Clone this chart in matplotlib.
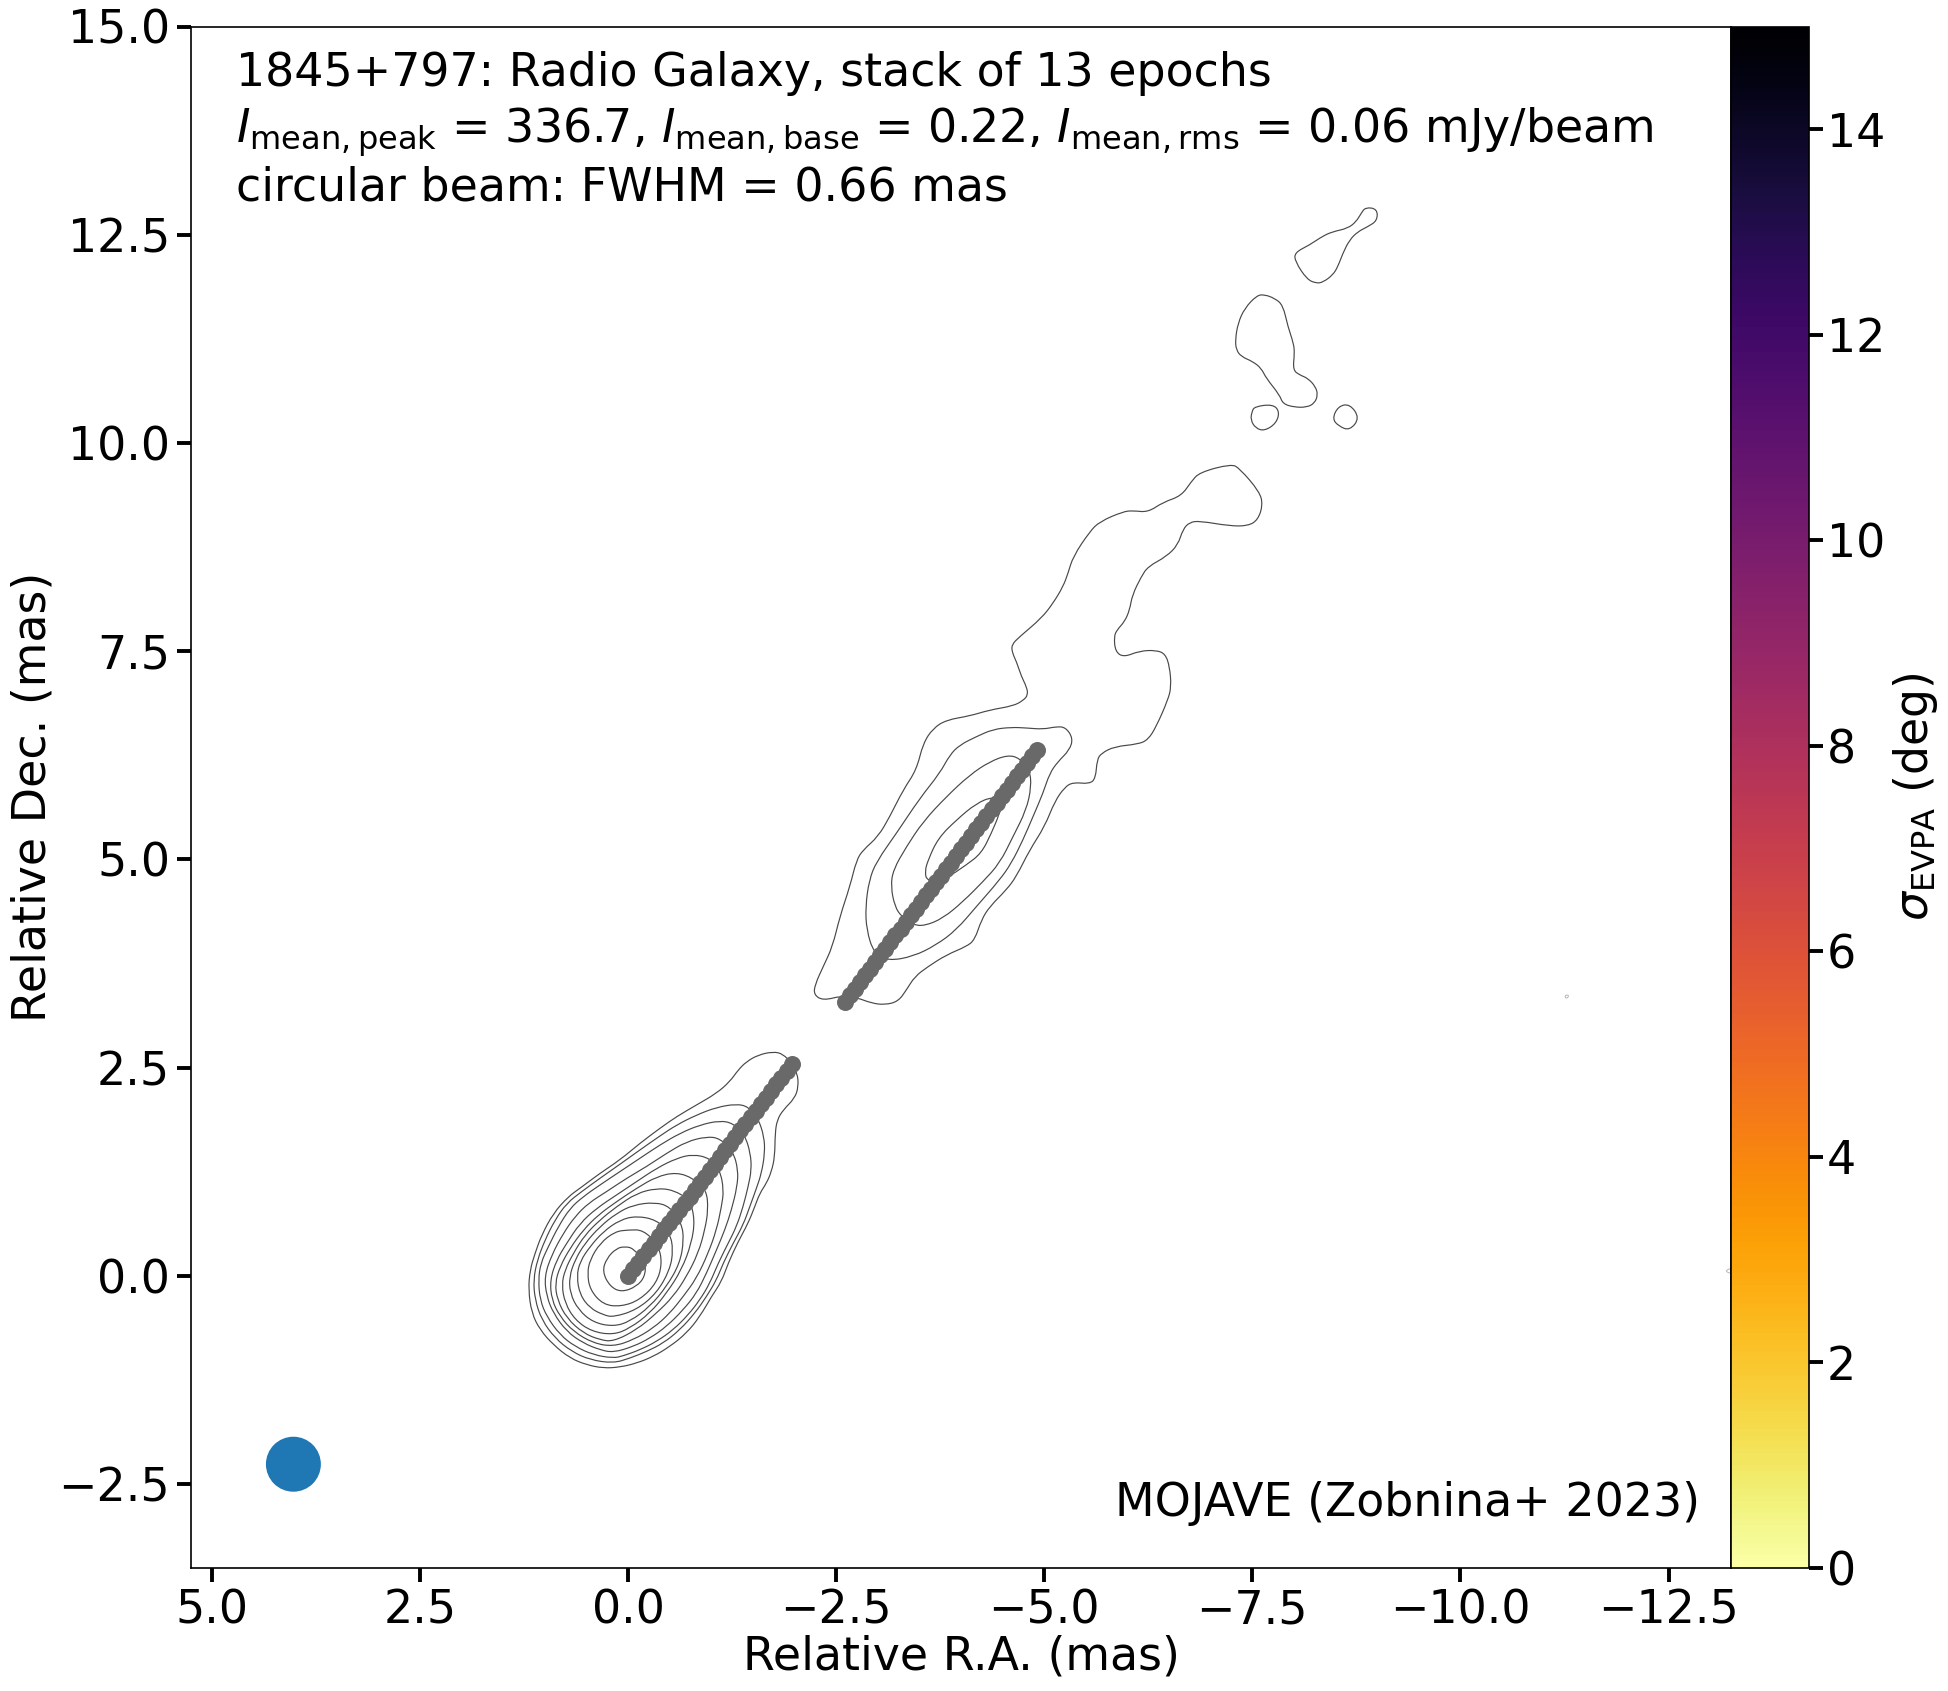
import matplotlib
matplotlib.use("Agg")
import matplotlib.pyplot as plt
from matplotlib.patches import Circle, PathPatch
from matplotlib.path import Path
from matplotlib.cm import ScalarMappable
from matplotlib.colors import Normalize

W, H, DPI = 1949, 1691, 100
FS = 33

# ---- data: contour outlines (RA, Dec in mas) ----
core_1 = [(1.197,-.167),(1.177,.073),(1.117,.273),(1.037,.493),(.897,.753),(.717,.953),(.577,1.053),(.337,1.233),(.097,1.393),(-.143,1.593),(-.383,1.773),(-.583,1.913),(-.823,2.053),(-1.063,2.193),(-1.223,2.333),(-1.323,2.473),(-1.423,2.573),(-1.563,2.653),(-1.743,2.693),(-1.863,2.665),(-1.963,2.553),(-2.035,2.433),(-2.047,2.273),(-2.003,2.133),(-1.863,1.993),(-1.791,1.873),(-1.767,1.713),(-1.763,1.433),(-1.723,1.253),(-1.663,1.113),(-1.583,.993),(-1.523,.833),(-1.443,.633),(-1.323,.413),(-1.203,.153),(-1.123,-.067),(-1.003,-.247),(-.863,-.487),(-.703,-.687),(-.503,-.847),(-.303,-.967),(-.103,-1.047),(.097,-1.095),(.297,-1.107),(.497,-1.067),(.697,-.987),(.897,-.827),(1.057,-.647),(1.157,-.447)]
core_2 = [(-1.303,2.065),(-1.063,2.025),(-.823,1.933),(-.583,1.813),(-.383,1.681),(-.143,1.513),(.097,1.341),(.337,1.173),(.557,1.013),(.737,.873),(.877,.673),(.997,.433),(1.089,.193),(1.137,-.047),(1.117,-.287),(1.037,-.527),(.877,-.747),(.677,-.907),(.457,-1.007),(.177,-1.047),(-.023,-.987),(-.223,-.907),(-.423,-.807),(-.623,-.647),(-.803,-.447),(-.943,-.247),(-1.063,-.047),(-1.143,.153),(-1.263,.393),(-1.383,.613),(-1.463,.833),(-1.543,1.053),(-1.603,1.233),(-1.643,1.473),(-1.635,1.673),(-1.563,1.893),(-1.443,2.033)]
core_3 = [(-1.103,1.865),(-.863,1.813),(-.623,1.713),(-.383,1.573),(-.143,1.413),(.097,1.253),(.337,1.093),(.537,.953),(.697,.813),(.837,.593),(.957,.353),(1.049,.153),(1.077,-.047),(1.057,-.287),(.977,-.487),(.817,-.707),(.637,-.847),(.417,-.947),(.177,-.987),(.057,-.959),(-.143,-.887),(-.343,-.787),(-.543,-.647),(-.723,-.467),(-.863,-.287),(-.983,-.087),(-1.083,.153),(-1.203,.393),(-1.303,.593),(-1.383,.833),(-1.443,1.073),(-1.483,1.273),(-1.471,1.473),(-1.403,1.693),(-1.263,1.833)]
core_4 = [(-.943,1.673),(-.703,1.613),(-.463,1.473),(-.223,1.313),(.017,1.173),(.257,1.013),(.477,.873),(.637,.713),(.777,.513),(.917,.253),(1.005,-.007),(.977,-.247),(.897,-.447),(.737,-.667),(.537,-.807),(.337,-.887),(.177,-.919),(-.063,-.847),(-.263,-.747),(-.463,-.607),(-.663,-.407),(-.823,-.207),(-.943,.033),(-1.063,.313),(-1.163,.553),(-1.243,.793),(-1.311,1.073),(-1.323,1.273),(-1.263,1.493),(-1.103,1.653)]
core_5 = [(-.783,1.461),(-.583,1.413),(-.343,1.293),(-.103,1.133),(.137,.973),(.377,.813),(.577,.633),(.737,.393),(.857,.193),(.937,-.047),(.917,-.287),(.817,-.487),(.657,-.667),(.417,-.807),(.177,-.847),(-.063,-.767),(-.303,-.627),(-.503,-.447),(-.663,-.247),(-.823,-.027),(-.963,.273),(-1.063,.553),(-1.123,.833),(-1.151,1.033),(-1.103,1.273),(-.983,1.413)]
core_6 = [(-.583,1.245),(-.343,1.193),(-.103,1.053),(.137,.893),(.357,.733),(.537,.553),(.697,.333),(.817,.113),(.877,-.087),(.849,-.287),(.737,-.507),(.537,-.687),(.337,-.767),(.177,-.787),(-.103,-.647),(-.343,-.447),(-.543,-.247),(-.703,-.007),(-.843,.273),(-.923,.553),(-.963,.793),(-.943,1.033),(-.783,1.173)]
core_7 = [(-.343,1.053),(-.103,.993),(.137,.833),(.337,.673),(.517,.493),(.657,.273),(.757,.073),(.797,-.107),(.757,-.327),(.637,-.527),(.437,-.667),(.177,-.707),(-.023,-.627),(-.263,-.447),(-.463,-.207),(-.643,.073),(-.763,.393),(-.803,.673),(-.743,.913),(-.543,1.033)]
core_8 = [(-.323,.885),(-.063,.853),(.137,.753),(.337,.593),(.517,.393),(.637,.193),(.705,-.007),(.697,-.207),(.597,-.407),(.417,-.559),(.177,-.607),(-.023,-.547),(-.263,-.367),(-.463,-.127),(-.623,.153),(-.671,.433),(-.643,.633),(-.503,.833)]
core_9 = [(-.103,.721),(.097,.673),(.297,.533),(.457,.353),(.577,.173),(.617,-.007),(.577,-.227),(.457,-.387),(.297,-.467),(.177,-.495),(-.103,-.407),(-.343,-.207),(-.503,.073),(-.543,.313),(-.503,.513),(-.343,.673)]
core_10 = [(-.003,.553),(.157,.533),(.337,.393),(.457,.193),(.489,.033),(.457,-.167),(.297,-.347),(.077,-.367),(-.143,-.287),(-.343,-.087),(-.411,.153),(-.363,.373),(-.183,.553)]
core_11 = [(.037,.353),(.137,.333),(.257,.213),(.309,.053),(.217,-.127),(.077,-.195),(-.103,-.127),(-.203,-.007),(-.211,.153),(-.063,.333)]

jet_inner_3 = [(-4.385,5.755),(-4.185,5.675),(-3.945,5.475),(-3.725,5.255),(-3.605,4.995),(-3.565,4.855),(-3.593,4.735),(-3.825,4.775),(-4.065,4.935),(-4.245,5.075),(-4.365,5.315),(-4.465,5.555),(-4.485,5.675)]
jet_inner_2 = [(-4.565,6.255),(-4.345,6.175),(-4.105,6.015),(-3.825,5.755),(-3.545,5.455),(-3.345,5.155),(-3.185,4.875),(-3.157,4.675),(-3.205,4.435),(-3.285,4.315),(-3.425,4.215),(-3.565,4.203),(-3.785,4.295),(-4.025,4.495),(-4.265,4.735),(-4.465,4.955),(-4.625,5.275),(-4.785,5.595),(-4.845,5.875),(-4.825,6.075),(-4.705,6.215)]
jet_inner_1 = [(-4.605,6.587),(-4.385,6.563),(-4.185,6.475),(-3.985,6.375),(-3.865,6.255),(-3.745,6.035),(-3.505,5.735),(-3.225,5.315),(-2.985,4.975),(-2.897,4.755),(-2.853,4.435),(-2.865,4.155),(-2.953,3.875),(-3.125,3.783),(-3.425,3.835),(-3.705,3.975),(-3.945,4.155),(-4.185,4.435),(-4.465,4.755),(-4.605,4.955),(-4.745,5.235),(-4.865,5.515),(-4.985,5.795),(-5.065,6.035),(-5.165,6.175),(-5.305,6.315),(-5.345,6.455),(-5.257,6.587),(-5.145,6.595),(-4.985,6.563),(-4.785,6.579)]
jet_outer = [(-2.345,3.307),(-2.233,3.375),(-2.245,3.495),(-2.345,3.715),(-2.457,3.955),(-2.545,4.315),(-2.665,4.675),(-2.745,4.995),(-2.825,5.115),(-3.005,5.275),(-3.145,5.515),(-3.305,5.835),(-3.465,6.075),(-3.545,6.395),(-3.665,6.575),(-3.825,6.675),(-4.105,6.723),(-4.345,6.795),(-4.625,6.843),(-4.745,6.907),(-4.806,6.976),(-4.786,7.076),(-4.726,7.196),(-4.666,7.376),(-4.618,7.476),(-4.606,7.576),(-4.706,7.676),(-4.966,7.896),(-5.106,8.076),(-5.226,8.276),(-5.286,8.436),(-5.346,8.636),(-5.546,8.936),(-5.666,9.056),(-5.946,9.176),(-6.066,9.188),(-6.246,9.168),(-6.426,9.288),(-6.646,9.364),(-6.766,9.536),(-6.866,9.648),(-7.246,9.748),(-7.346,9.696),(-7.586,9.416),(-7.626,9.256),(-7.566,9.076),(-7.446,9.004),(-7.226,9.004),(-6.866,9.064),(-6.746,9.048),(-6.666,8.964),(-6.606,8.776),(-6.466,8.636),(-6.246,8.516),(-6.166,8.396),(-6.058,8.176),(-6.026,7.996),(-5.966,7.856),(-5.874,7.756),(-5.838,7.676),(-5.854,7.496),(-5.954,7.428),(-6.146,7.504),(-6.346,7.512),(-6.454,7.468),(-6.506,7.316),(-6.526,7.076),(-6.486,6.916),(-6.346,6.596),(-6.246,6.436),(-6.126,6.384),(-5.846,6.356),(-5.686,6.276),(-5.634,6.196),(-5.617,5.975),(-5.545,5.907),(-5.345,5.927),(-5.245,5.867),(-5.125,5.695),(-5.005,5.395),(-4.825,5.115),(-4.665,4.795),(-4.545,4.635),(-4.345,4.435),(-4.245,4.275),(-4.165,4.035),(-4.065,3.955),(-3.825,3.855),(-3.605,3.715),(-3.445,3.595),(-3.345,3.435),(-3.245,3.295),(-3.085,3.255),(-2.925,3.275),(-2.745,3.343),(-2.565,3.363)]

island_top = [(-8.007,12.285),(-8.015,12.177),(-8.155,11.965),(-8.267,11.917),(-8.347,11.929),(-8.467,12.017),(-8.527,12.117),(-8.587,12.277),(-8.667,12.437),(-8.767,12.537),(-8.887,12.597),(-9.000,12.669),(-9.000,12.810),(-8.859,12.830),(-8.807,12.757),(-8.747,12.657),(-8.647,12.577),(-8.467,12.537),(-8.347,12.485),(-8.187,12.377)]
island_mid = [(-7.555,11.773),(-7.647,11.781),(-7.767,11.737),(-7.867,11.657),(-7.927,11.397),(-7.995,11.197),(-8.007,11.077),(-7.987,10.877),(-8.067,10.817),(-8.167,10.777),(-8.259,10.677),(-8.287,10.577),(-8.247,10.477),(-8.155,10.429),(-8.007,10.429),(-7.867,10.469),(-7.827,10.577),(-7.667,10.777),(-7.607,10.897),(-7.507,10.977),(-7.367,11.037),(-7.307,11.117),(-7.295,11.237),(-7.327,11.437),(-7.407,11.617)]
island_small_a = [(-7.527,10.437),(-7.747,10.465),(-7.827,10.377),(-7.787,10.237),(-7.647,10.145),(-7.539,10.177),(-7.479,10.277),(-7.495,10.377)]
island_small_b = [(-8.53,10.44),(-8.67,10.47),(-8.79,10.30),(-8.67,10.15),(-8.54,10.20),(-8.46,10.29)]
speck_a = [(-11.25,3.36),(-11.29,3.38),(-11.30,3.35),(-11.27,3.33)]
speck_b = [(-13.27,0.10),(-13.17,0.06),(-13.27,0.02)]

contours = [core_1, core_2, core_3, core_4, core_5, core_6, core_7, core_8, core_9, core_10, core_11,
            jet_inner_1, jet_inner_2, jet_inner_3, jet_outer,
            island_top, island_mid, island_small_a, island_small_b]
specks = [speck_a, speck_b]

# ---- data: ridge line points ----
ridge_core_ra = [0,-.06,-.12,-.18,-.25,-.31,-.37,-.43,-.49,-.55,-.61,-.68,-.74,-.80,-.86,-.92,-.98,-1.05,-1.11,-1.17,-1.23,-1.29,-1.35,-1.41,-1.48,-1.54,-1.60,-1.66,-1.72,-1.78,-1.84,-1.91,-1.97]
ridge_core_dec = [0,.08,.16,.24,.32,.40,.48,.56,.64,.71,.79,.87,.95,1.03,1.11,1.19,1.27,1.35,1.43,1.51,1.59,1.67,1.75,1.83,1.91,1.98,2.06,2.14,2.22,2.30,2.38,2.46,2.54]
ridge_jet_ra = [-2.61,-2.67,-2.73,-2.79,-2.85,-2.91,-2.97,-3.03,-3.09,-3.15,-3.21,-3.28,-3.34,-3.40,-3.46,-3.52,-3.58,-3.64,-3.70,-3.76,-3.82,-3.88,-3.94,-4.00,-4.06,-4.12,-4.18,-4.24,-4.30,-4.37,-4.43,-4.49,-4.55,-4.61,-4.67,-4.73,-4.79,-4.85,-4.91]
ridge_jet_dec = [3.29,3.37,3.45,3.53,3.61,3.69,3.77,3.85,3.93,4.01,4.09,4.17,4.25,4.33,4.41,4.49,4.57,4.65,4.73,4.80,4.88,4.96,5.04,5.12,5.20,5.28,5.36,5.44,5.52,5.60,5.68,5.76,5.84,5.92,6.00,6.08,6.16,6.24,6.32]

beam_center = (4.02, -2.26)
beam_fwhm = 0.66
cbar_ticks = [0, 2, 4, 6, 8, 10, 12, 14]
x_ticks = [5.0, 2.5, 0.0, -2.5, -5.0, -7.5, -10.0, -12.5]
y_ticks = [-2.5, 0.0, 2.5, 5.0, 7.5, 10.0, 12.5, 15.0]

title_lines = ["1845+797: Radio Galaxy, stack of 13 epochs",
               r"$I_\mathrm{mean,peak}$ = 336.7, $I_\mathrm{mean,base}$ = 0.22, $I_\mathrm{mean,rms}$ = 0.06 mJy/beam",
               "circular beam: FWHM = 0.66 mas"]

# ---- drawing ----
plt.rcParams["font.family"] = "DejaVu Sans"
fig = plt.figure(figsize=(W / DPI, H / DPI), dpi=DPI)
L, R, T, B = 191.0, 1731.0, 26.5, 1567.5
ax = fig.add_axes([L / W, 1 - B / H, (R - L) / W, (B - T) / H])
cax = fig.add_axes([R / W, 1 - B / H, 77.7 / W, (B - T) / H])


def outline_path(pts):
    """Closed quadratic path whose control points are the traced vertices."""
    mid = lambda a, b: ((a[0] + b[0]) / 2, (a[1] + b[1]) / 2)
    verts = [mid(pts[-1], pts[0])]
    codes = [Path.MOVETO]
    for i, p in enumerate(pts):
        verts += [p, mid(p, pts[(i + 1) % len(pts)])]
        codes += [Path.CURVE3, Path.CURVE3]
    return Path(verts, codes)


for c in contours:
    ax.add_patch(PathPatch(outline_path(c), fill=False, edgecolor="#484848", lw=0.85, zorder=2))
for c in specks:
    ax.add_patch(PathPatch(outline_path(c), fill=False, edgecolor="#aaaaaa", lw=0.6, zorder=2))

ax.scatter(ridge_core_ra, ridge_core_dec, s=150, color="#696969", linewidths=0, zorder=3)
ax.scatter(ridge_jet_ra, ridge_jet_dec, s=150, color="#696969", linewidths=0, zorder=3)
ax.add_patch(Circle(beam_center, beam_fwhm / 2, color="#1f77b4", lw=0, zorder=3))

ax.set_xlim(5.25, -13.25)
ax.set_ylim(-3.5, 15)
ax.set_xticks(x_ticks)
ax.set_yticks(y_ticks)
ax.tick_params(axis="both", labelsize=FS, length=10, width=2.8, pad=5)
ax.set_xlabel("Relative R.A. (mas)", fontsize=FS, labelpad=1)
ax.set_ylabel("Relative Dec. (mas)", fontsize=FS, labelpad=2)
for s in ax.spines.values():
    s.set_linewidth(1.2)

cb = fig.colorbar(ScalarMappable(norm=Normalize(0, 15), cmap="inferno_r"), cax=cax)
cb.set_ticks(cbar_ticks)
cb.ax.tick_params(labelsize=FS, length=10, width=2.8, pad=3)
cb.set_label(r"$\sigma_\mathrm{EVPA}$ (deg)", fontsize=FS, labelpad=4)
cb.outline.set_linewidth(1.2)

for line, yy in zip(title_lines, (0.9616, 0.9245, 0.8868)):
    ax.text(0.029, yy, line, transform=ax.transAxes, fontsize=FS, va="baseline", ha="left")
ax.text(0.980, 0.0335, "MOJAVE (Zobnina+ 2023)", transform=ax.transAxes, fontsize=FS, va="baseline", ha="right")

fig.savefig("out.png", dpi=DPI)
